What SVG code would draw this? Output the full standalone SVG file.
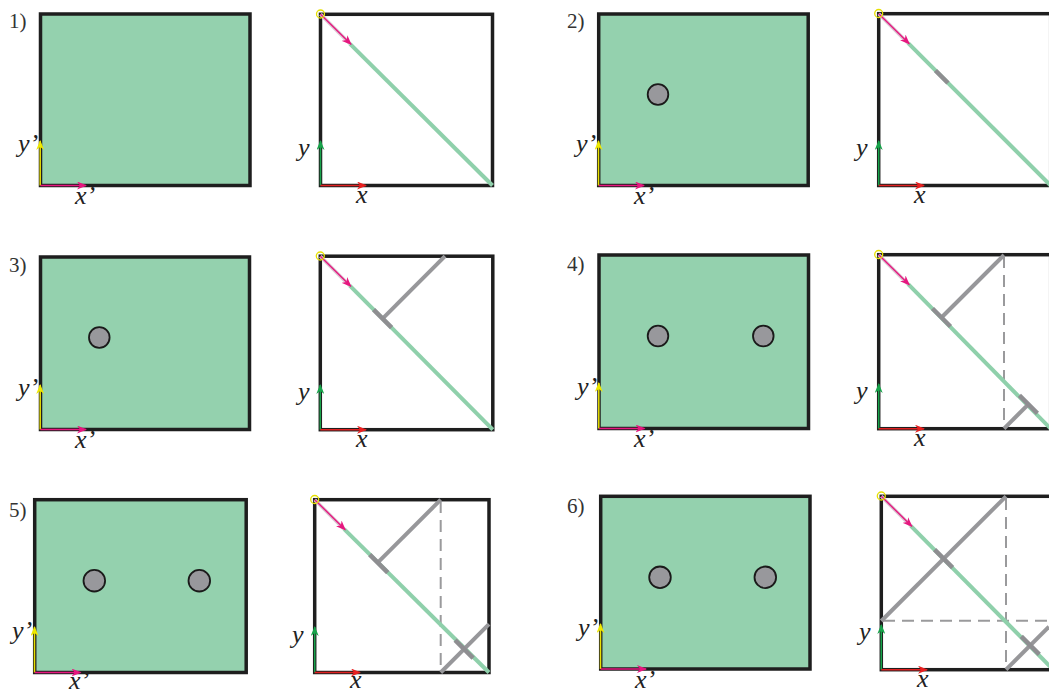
<svg xmlns="http://www.w3.org/2000/svg" width="1049" height="693" viewBox="0 0 1049 693">
<style>
.bg{fill:#ffffff}
.plate{fill:#94d1ae;stroke:#1e1e1e;stroke-width:3.5}
.frame{fill:none;stroke:#1e1e1e;stroke-width:3.5}
.hole{fill:#98989c;stroke:#1a1a1a;stroke-width:1.8}
.diag{stroke:#8fd0ab;stroke-width:4;fill:none}
.ray{stroke:#97979a;stroke-width:4;fill:none}
.tick{stroke:#8e8e91;stroke-width:4.5;fill:none}
.dash{stroke:#9a9a9c;stroke-width:2;stroke-dasharray:12 7;fill:none}
.pale{stroke:#d9c9d3;stroke-width:3.5;fill:none}
.mag{stroke:#e6177f;stroke-width:1.4;fill:none;marker-end:url(#ah-mag)}
.ax-x{stroke:#e6177f;stroke-width:1.5;fill:none;marker-end:url(#ah-mag)}
.ax-y{stroke:#e9e000;stroke-width:1.5;fill:none;marker-end:url(#ah-yel)}
.ax-r{stroke:#e02020;stroke-width:1.5;fill:none;marker-end:url(#ah-red)}
.ax-g{stroke:#17a34a;stroke-width:1.5;fill:none;marker-end:url(#ah-grn)}
.ring{fill:none;stroke:#e6e000;stroke-width:1.3}
.num{font-family:"Liberation Serif",serif;font-size:21px;fill:#333}
.lab{font-family:"Liberation Serif",serif;font-style:italic;font-size:26px;fill:#222}
</style>
<defs>
<marker id="ah-mag" viewBox="0 0 10 8" refX="9" refY="4" markerWidth="10" markerHeight="8" markerUnits="userSpaceOnUse" orient="auto"><path d="M0,0 L10,4 L0,8 L3,4 z" fill="#e6177f"/></marker>
<marker id="ah-yel" viewBox="0 0 10 8" refX="9" refY="4" markerWidth="10" markerHeight="8" markerUnits="userSpaceOnUse" orient="auto"><path d="M0,0 L10,4 L0,8 L3,4 z" fill="#eee800"/></marker>
<marker id="ah-red" viewBox="0 0 10 8" refX="9" refY="4" markerWidth="10" markerHeight="8" markerUnits="userSpaceOnUse" orient="auto"><path d="M0,0 L10,4 L0,8 L3,4 z" fill="#e82020"/></marker>
<marker id="ah-grn" viewBox="0 0 10 8" refX="9" refY="4" markerWidth="10" markerHeight="8" markerUnits="userSpaceOnUse" orient="auto"><path d="M0,0 L10,4 L0,8 L3,4 z" fill="#17a34a"/></marker>
</defs>
<rect class="bg" x="0" y="0" width="1049" height="693"/>

<!-- Panel 1 -->
<g id="p1-left">
<text class="num" x="9" y="28">1)</text>
<rect class="plate" x="40.5" y="14" width="209.5" height="171.5"/>
<line class="ax-y" x1="40.2" y1="185.5" x2="40.2" y2="141"/>
<line class="ax-x" x1="40.5" y1="185.5" x2="86" y2="185.5"/>
<text class="lab" x="18" y="152">y’</text>
<text class="lab" x="75" y="204">x’</text>
</g>
<g id="p1-right">
<rect class="frame" x="320.5" y="14.3" width="172" height="171.2"/>
<line class="diag" x1="350" y1="43.8" x2="492.5" y2="185.5"/>
<line class="pale" x1="320.5" y1="14.3" x2="350" y2="43.8"/>
<line class="mag" x1="320.5" y1="14.3" x2="351" y2="44.3"/>
<circle class="ring" cx="320.5" cy="14" r="4"/>
<line class="ax-g" x1="320.5" y1="185.5" x2="320.5" y2="141"/>
<line class="ax-r" x1="320.5" y1="185.5" x2="366" y2="185.5"/>
<text class="lab" x="298" y="156">y</text>
<text class="lab" x="356" y="203">x</text>
</g>

<!-- Panel 2 -->
<g id="p2-left">
<text class="num" x="567" y="28">2)</text>
<rect class="plate" x="598.7" y="14" width="209.5" height="171.5"/>
<circle class="hole" cx="658" cy="94.5" r="10.3"/>
<line class="ax-y" x1="598.5" y1="185.5" x2="598.5" y2="141"/>
<line class="ax-x" x1="598.7" y1="185.5" x2="644" y2="185.5"/>
<text class="lab" x="576" y="152">y’</text>
<text class="lab" x="634" y="204">x’</text>
</g>
<g id="p2-right">
<rect class="frame" x="878.7" y="13.7" width="172" height="171.8"/>
<line class="diag" x1="908.2" y1="43.2" x2="1050.7" y2="185.5"/>
<line class="tick" x1="935.5" y1="70.5" x2="948" y2="83"/>
<line class="pale" x1="878.7" y1="13.7" x2="908.2" y2="43.2"/>
<line class="mag" x1="878.7" y1="13.7" x2="909.2" y2="43.7"/>
<circle class="ring" cx="878.7" cy="13.5" r="4"/>
<line class="ax-g" x1="878.7" y1="185.5" x2="878.7" y2="141"/>
<line class="ax-r" x1="878.7" y1="185.5" x2="924" y2="185.5"/>
<text class="lab" x="856" y="156">y</text>
<text class="lab" x="914" y="203">x</text>
</g>

<!-- Panel 3 -->
<g id="p3-left">
<text class="num" x="9" y="272">3)</text>
<rect class="plate" x="40.5" y="257" width="209" height="172.5"/>
<circle class="hole" cx="99.3" cy="337.5" r="10.3"/>
<line class="ax-y" x1="40.2" y1="429.5" x2="40.2" y2="385"/>
<line class="ax-x" x1="40.5" y1="429.5" x2="86" y2="429.5"/>
<text class="lab" x="18" y="396">y’</text>
<text class="lab" x="75" y="448">x’</text>
</g>
<g id="p3-right">
<rect class="frame" x="320.3" y="256.2" width="172.5" height="173.5"/>
<line class="diag" x1="349.8" y1="285.7" x2="492.8" y2="429.7"/>
<line class="ray" x1="445" y1="256.2" x2="382.6" y2="318.6"/>
<line class="tick" x1="373.6" y1="309.6" x2="391.6" y2="327.6"/>
<line class="pale" x1="320.3" y1="256.2" x2="349.8" y2="285.7"/>
<line class="mag" x1="320.3" y1="256.2" x2="350.8" y2="286.2"/>
<circle class="ring" cx="320.3" cy="256" r="4"/>
<line class="ax-g" x1="320.3" y1="429.7" x2="320.3" y2="385"/>
<line class="ax-r" x1="320.3" y1="429.7" x2="366" y2="429.7"/>
<text class="lab" x="298" y="400">y</text>
<text class="lab" x="356" y="447">x</text>
</g>

<!-- Panel 4 -->
<g id="p4-left">
<text class="num" x="567" y="271">4)</text>
<rect class="plate" x="599" y="255" width="209.5" height="173.5"/>
<circle class="hole" cx="658" cy="336" r="10.3"/>
<circle class="hole" cx="763.3" cy="336" r="10.3"/>
<line class="ax-y" x1="598.8" y1="428.5" x2="598.8" y2="383"/>
<line class="ax-x" x1="599" y1="428.5" x2="644.5" y2="428.5"/>
<text class="lab" x="577" y="395">y’</text>
<text class="lab" x="634" y="447">x’</text>
</g>
<g id="p4-right">
<rect class="frame" x="878.7" y="254.7" width="172" height="174"/>
<line class="dash" x1="1004" y1="256" x2="1004" y2="427"/>
<line class="diag" x1="908.2" y1="284.2" x2="1050.7" y2="428.7"/>
<line class="ray" x1="1004" y1="255" x2="941.5" y2="317.5"/>
<line class="tick" x1="932.5" y1="308.5" x2="950.5" y2="326.5"/>
<line class="ray" x1="1004" y1="428.7" x2="1028.3" y2="404.3"/>
<line class="tick" x1="1019.4" y1="395.4" x2="1037.4" y2="413.4"/>
<line class="pale" x1="878.7" y1="254.7" x2="908.2" y2="284.2"/>
<line class="mag" x1="878.7" y1="254.7" x2="909.2" y2="284.7"/>
<circle class="ring" cx="878.7" cy="254.5" r="4"/>
<line class="ax-g" x1="878.7" y1="428.7" x2="878.7" y2="384"/>
<line class="ax-r" x1="878.7" y1="428.7" x2="924" y2="428.7"/>
<text class="lab" x="856" y="399">y</text>
<text class="lab" x="914" y="446">x</text>
</g>

<!-- Panel 5 -->
<g id="p5-left">
<text class="num" x="9" y="517">5)</text>
<rect class="plate" x="34.7" y="499.7" width="211.5" height="172.8"/>
<circle class="hole" cx="94.3" cy="580.7" r="10.8"/>
<circle class="hole" cx="199.3" cy="580.7" r="10.8"/>
<line class="ax-y" x1="34.5" y1="672.5" x2="34.5" y2="627"/>
<line class="ax-x" x1="34.7" y1="672.5" x2="80.5" y2="672.5"/>
<text class="lab" x="12" y="639">y’</text>
<text class="lab" x="69" y="689">x’</text>
</g>
<g id="p5-right">
<rect class="frame" x="314.7" y="499.7" width="174.3" height="172.8"/>
<line class="dash" x1="440.7" y1="501" x2="440.7" y2="671"/>
<line class="diag" x1="344.2" y1="529.2" x2="489" y2="672.5"/>
<line class="ray" x1="440.7" y1="499.7" x2="377.7" y2="562.7"/>
<line class="tick" x1="369.7" y1="554.7" x2="387.7" y2="572.7"/>
<line class="ray" x1="440.7" y1="672.5" x2="489" y2="624.2"/>
<line class="tick" x1="455.1" y1="640.1" x2="473.1" y2="658.1"/>
<line class="pale" x1="314.7" y1="499.7" x2="344.2" y2="529.2"/>
<line class="mag" x1="314.7" y1="499.7" x2="345.2" y2="529.7"/>
<circle class="ring" cx="314.7" cy="499.5" r="4"/>
<line class="ax-g" x1="314.7" y1="672.5" x2="314.7" y2="627"/>
<line class="ax-r" x1="314.7" y1="672.5" x2="360" y2="672.5"/>
<text class="lab" x="292" y="643">y</text>
<text class="lab" x="350" y="688">x</text>
</g>

<!-- Panel 6 -->
<g id="p6-left">
<text class="num" x="567" y="513">6)</text>
<rect class="plate" x="600.7" y="496.3" width="209.3" height="172.7"/>
<circle class="hole" cx="660" cy="577.3" r="10.8"/>
<circle class="hole" cx="765.3" cy="577.3" r="10.8"/>
<line class="ax-y" x1="600.5" y1="669" x2="600.5" y2="624"/>
<line class="ax-x" x1="600.7" y1="669" x2="646" y2="669"/>
<text class="lab" x="578" y="636">y’</text>
<text class="lab" x="635" y="688">x’</text>
</g>
<g id="p6-right">
<rect class="frame" x="881.3" y="496.3" width="172" height="173.4"/>
<line class="dash" x1="1006" y1="498" x2="1006" y2="668"/>
<line class="dash" x1="883" y1="620.7" x2="1049" y2="620.7"/>
<line class="diag" x1="910.8" y1="525.8" x2="1053.3" y2="669.7"/>
<line class="ray" x1="1006" y1="496.3" x2="881.3" y2="621"/>
<line class="tick" x1="934.6" y1="549.6" x2="952.6" y2="567.6"/>
<line class="ray" x1="1006" y1="669.7" x2="1049" y2="626.7"/>
<line class="tick" x1="1021.3" y1="636.3" x2="1039.3" y2="654.3"/>
<line class="pale" x1="881.3" y1="496.3" x2="910.8" y2="525.8"/>
<line class="mag" x1="881.3" y1="496.3" x2="911.8" y2="526.3"/>
<circle class="ring" cx="881.3" cy="496" r="4"/>
<line class="ax-g" x1="881.3" y1="669.7" x2="881.3" y2="625"/>
<line class="ax-r" x1="881.3" y1="669.7" x2="927" y2="669.7"/>
<text class="lab" x="859" y="640">y</text>
<text class="lab" x="917" y="687">x</text>
</g>
</svg>
